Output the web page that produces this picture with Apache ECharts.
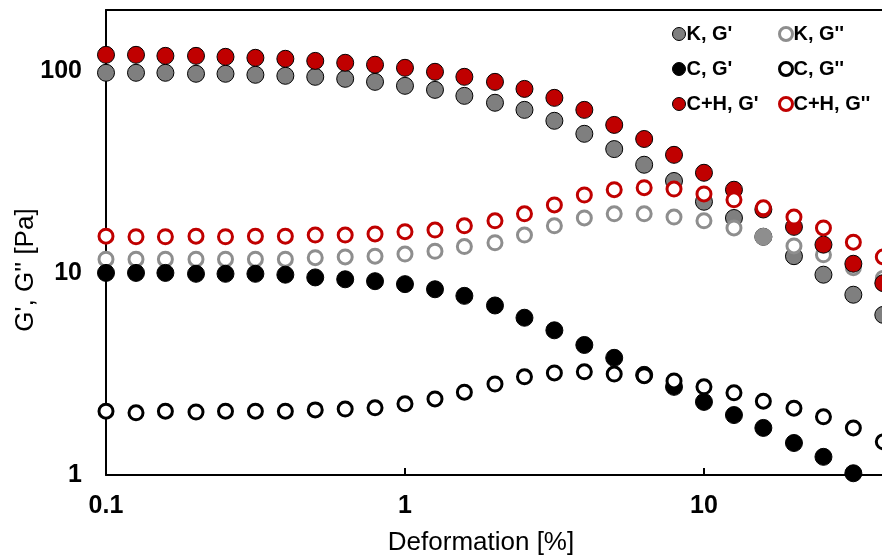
<!DOCTYPE html>
<html><head><meta charset="utf-8">
<script src="https://cdn.jsdelivr.net/npm/echarts@6/dist/echarts.min.js"></script>
<style>html,body{margin:0;padding:0;background:#fff}#c{width:882px;height:560px}</style>
</head><body><div id="c"></div>
<script>
const deformation = [0.1,0.126,0.158,0.2,0.251,0.316,0.398,0.501,0.631,0.794,1,1.26,1.58,2,2.51,3.16,3.98,5.01,6.31,7.94,10,12.6,15.8,20,25.1,31.6,39.8];
const kG1 = [97.8,97.8,97.8,96.7,96.7,95.6,94.5,93.4,91.3,88.2,84.3,80.5,75.2,69.5,64.1,56.6,48.8,41,34.3,28.5,22.5,18.7,15.1,12.1,9.8,7.8,6.2];
const kG2 = [11.7,11.7,11.7,11.7,11.7,11.7,11.7,11.9,12.0,12.1,12.4,12.8,13.5,14.1,15.4,17.1,18.7,19.6,19.6,18.9,18.1,16.7,15.1,13.6,12.3,10.6,9.4];
const cG1 = [10,10,10,9.9,9.9,9.9,9.8,9.5,9.3,9.1,8.8,8.3,7.7,6.9,6.0,5.2,4.4,3.8,3.13,2.73,2.3,1.98,1.71,1.44,1.23,1.02,null];
const cG2 = [2.07,2.03,2.07,2.05,2.07,2.07,2.07,2.1,2.12,2.15,2.25,2.38,2.57,2.82,3.06,3.2,3.24,3.16,3.1,2.92,2.73,2.55,2.32,2.14,1.94,1.71,1.46];
const chG1 = [120,120,118.6,118.6,117.3,116,114.7,112,109.6,107.2,103.5,98.9,93.4,88.2,81.4,73.5,64.1,54,46,38.4,31.3,25.8,20.6,16.9,13.8,11.1,8.9];
const chG2 = [15.2,15.1,15.1,15.2,15.1,15.2,15.2,15.4,15.4,15.6,16.0,16.3,17.1,18.1,19.6,21.7,24.3,25.8,26.4,26,24.6,23,21,18.9,16.7,14.2,12];
const names = ["K, G'","K, G''","C, G'","C, G''","C+H, G'","C+H, G''"];
const yTicks = [1,10,100];
const xTicks = [0.1,1,10];
const xRange = [0.1, 39.4];
const yRange = [1, 200];

function pts(arr){ return deformation.map((x,i)=>arr[i]==null?null:[x,arr[i]]).filter(p=>p); }
const FONT = 'Liberation Sans, Arial, sans-serif';
const GREY = '#7f7f7f', GREY2 = '#8e8e8e', RED = '#c00000';
function filled(name, data, color){
  return {name, type:'scatter', data, symbol:'circle', symbolSize:17, clip:false,
    itemStyle:{color, borderColor:'#000', borderWidth:1, opacity:1}};
}
function ring(name, data, color){
  return {name, type:'scatter', data, symbol:'circle', symbolSize:14, clip:false,
    itemStyle:{color:'#fff', borderColor:color, borderWidth:3, opacity:1}};
}
const kG2data = pts(kG2).map((p,i)=> deformation[i]===15.8 ?
  {value:p, symbolSize:18, itemStyle:{color:GREY2, borderWidth:0}} : p);

function legendItems(idx){
  return idx.map(i=>{
    const isRing = i%2===1;
    const col = [GREY,GREY2,'#000','#000',RED,RED][i];
    return {name:names[i], itemStyle: isRing ? {color:'#fff', borderColor:col, borderWidth:3}
                                              : {color:col, borderColor:'#000', borderWidth:1}};
  });
}
const legendText = {fontFamily:FONT, fontWeight:'bold', fontSize:20, color:'#000', lineHeight:20, padding:[0,0,0,-4]};

const chart = echarts.init(document.getElementById('c'));
chart.setOption({
  animation:false,
  grid:{left:106, top:10, right:0, height:465, outerBoundsMode:'none'},
  xAxis:[{type:'log', logBase:10, min:xRange[0], max:xRange[1],
    axisLine:{show:true, lineStyle:{color:'#000', width:2}},
    axisTick:{show:true, inside:true, length:7, lineStyle:{color:'#000', width:2}},
    minorTick:{show:false}, splitLine:{show:false},
    axisLabel:{fontFamily:FONT, fontWeight:'bold', fontSize:25, color:'#000', margin:19, showMaxLabel:false,
      formatter:v=> xTicks.some(t=>Math.abs(t-v)/t<1e-6) ? String(v) : ''}},
    {type:'log', logBase:10, min:xRange[0], max:xRange[1], position:'top',
     axisLine:{show:true, lineStyle:{color:'#000', width:2}}, axisTick:{show:false}, axisLabel:{show:false}, splitLine:{show:false}}],
  yAxis:{type:'log', logBase:10, min:yRange[0], max:yRange[1],
    axisLine:{show:true, lineStyle:{color:'#000', width:2}},
    axisTick:{show:true, inside:true, length:7, lineStyle:{color:'#000', width:2}},
    splitLine:{show:false},
    axisLabel:{fontFamily:FONT, fontWeight:'bold', fontSize:25, color:'#000', margin:24, showMaxLabel:false,
      formatter:v=> yTicks.some(t=>Math.abs(t-v)/t<1e-6) ? String(Math.round(v)) : ''}},
  legend:[
    {data:legendItems([0,2,4]), orient:'vertical', left:667, top:19, itemWidth:13, itemHeight:13, itemGap:15, textStyle:legendText},
    {data:legendItems([1,3,5]), orient:'vertical', left:773, top:19, itemWidth:13, itemHeight:13, itemGap:15, textStyle:legendText}
  ],
  graphic:[
    {type:'text', x:481, y:543, style:{text:'Deformation [%]', align:'center', verticalAlign:'middle', font:'26px '+FONT, fill:'#000'}},
    {type:'text', rotation:Math.PI/2, x:26, y:270, style:{text:"G', G'' [Pa]", align:'center', verticalAlign:'middle', font:'26px '+FONT, fill:'#000'}}
  ],
  series:[
    filled(names[0], pts(kG1), GREY),
    ring(names[1], kG2data, GREY2),
    filled(names[2], pts(cG1), '#000'),
    ring(names[3], pts(cG2), '#000'),
    filled(names[4], pts(chG1), RED),
    ring(names[5], pts(chG2), RED)
  ]
});
</script></body></html>
